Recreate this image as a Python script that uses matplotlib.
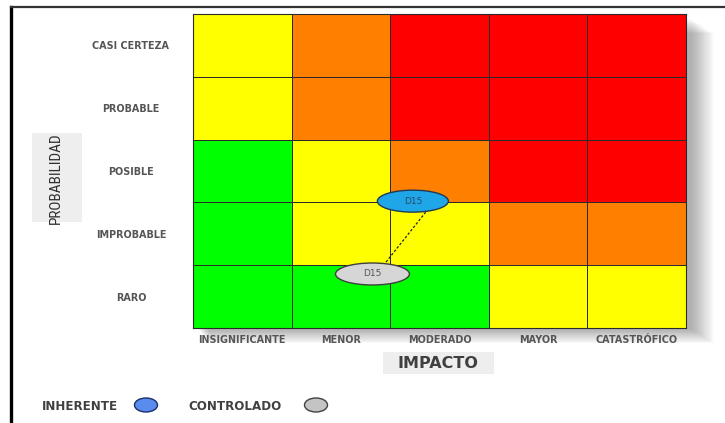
import matplotlib
matplotlib.use('Agg')
import matplotlib.pyplot as plt
from matplotlib.colors import ListedColormap, BoundaryNorm
from matplotlib.patches import Ellipse, Rectangle
from matplotlib.lines import Line2D
from matplotlib import font_manager
import numpy as np

# ---------------- data ----------------
impact_labels = ['INSIGNIFICANTE', 'MENOR', 'MODERADO', 'MAYOR', 'CATASTRÓFICO']
prob_labels = ['RARO', 'IMPROBABLE', 'POSIBLE', 'PROBABLE', 'CASI CERTEZA']  # bottom -> top
risk_levels = [
    [0, 0, 0, 1, 1],   # RARO
    [0, 1, 1, 2, 2],   # IMPROBABLE
    [0, 1, 2, 3, 3],   # POSIBLE
    [1, 2, 3, 3, 3],   # PROBABLE
    [1, 2, 3, 3, 3],   # CASI CERTEZA
]
level_colors = ['#00FF00', '#FFFF00', '#FF8000', '#FF0000']
risk_name = 'D15'
inherent_xy = (2.23, 2.02)
controlled_xy = (1.82, 0.86)
legend_names = ['INHERENTE', 'CONTROLADO']

# ---------------- figure ----------------
W, H = 725, 423
fig = plt.figure(figsize=(W / 100, H / 100), dpi=100)
fig.patch.set_facecolor('white')

def fx(px):
    return px / W

def fy(py):
    return 1 - py / H

avail = {f.name for f in font_manager.fontManager.ttflist}
narrow = None
for cand in ['Liberation Sans Narrow', 'Roboto Condensed', 'Open Sans Condensed',
             'DejaVu Sans Condensed']:
    if cand in avail:
        narrow = cand
        break
label_font = 'DejaVu Sans'
gray_txt = '#555555'

# frame lines (left and top)
fig.add_artist(Line2D([fx(11), fx(11)], [fy(7), fy(423)], transform=fig.transFigure,
                      color='black', lw=2.4))
fig.add_artist(Line2D([fx(11), fx(725)], [fy(7), fy(7)], transform=fig.transFigure,
                      color='#333333', lw=1.6))

# soft shadow of the grid
gl, gr, gt, gb = 193, 686, 14, 328
for i in range(1, 18):
    fig.add_artist(Rectangle((fx(gl + 4 + i * 0.7), fy(gb + i * 0.9)),
                             (gr - gl) / W + i / W * 0.7,
                             (gb - gt - 4) / H, transform=fig.transFigure,
                             facecolor='black', edgecolor='none', alpha=0.02, zorder=0))

# axes with the matrix
ax = fig.add_axes([fx(gl), fy(gb), (gr - gl) / W, (gb - gt) / H], zorder=2)
cmap = ListedColormap(level_colors)
norm = BoundaryNorm([-0.5, 0.5, 1.5, 2.5, 3.5], len(level_colors))
ax.pcolormesh(np.arange(len(impact_labels) + 1), np.arange(len(prob_labels) + 1),
              np.array(risk_levels), cmap=cmap, norm=norm,
              edgecolors='#2a2a2a', linewidth=0.7)
ax.set_xlim(0, len(impact_labels))
ax.set_ylim(0, len(prob_labels))
for s in ax.spines.values():
    s.set_color('#2a2a2a')
    s.set_linewidth(0.8)

ax.set_xticks(np.arange(len(impact_labels)) + 0.5)
ax.set_xticklabels(impact_labels, fontsize=6.9, fontweight='bold', color=gray_txt,
                   family=label_font)
ax.set_yticks(np.arange(len(prob_labels)) + 0.5)
ax.set_yticklabels(prob_labels, fontsize=6.9, fontweight='bold', color=gray_txt,
                   family=label_font)
for lbl in ax.get_yticklabels():
    lbl.set_ha('center')
ax.tick_params(axis='x', length=0, pad=5.0)
ax.tick_params(axis='y', length=0, pad=(gl - 131) * 0.72)

# connector between inherent and controlled
ew, eh = 0.72, 0.35
off = 0.13
ax.plot([inherent_xy[0] + off, controlled_xy[0] + off],
        [inherent_xy[1] - eh / 2, controlled_xy[1] + eh / 2],
        ls=(0, (2, 1.5)), color='#222222', lw=0.9, zorder=3)

ax.add_patch(Ellipse(inherent_xy, ew, eh, facecolor='#1EA6E8', edgecolor='#203a55',
                     lw=1.0, zorder=4))
ax.text(inherent_xy[0], inherent_xy[1], risk_name, ha='center', va='center',
        fontsize=6.5, color='#2b4a6a', zorder=5)
ax.add_patch(Ellipse(controlled_xy, ew + 0.03, eh, facecolor='#D6D6D6', edgecolor='#404040',
                     lw=1.0, zorder=4))
ax.text(controlled_xy[0], controlled_xy[1], risk_name, ha='center', va='center',
        fontsize=6.5, color='#555555', zorder=5)

# axis titles with light boxes
fig.add_artist(Rectangle((fx(383), fy(374)), (494 - 383) / W, (374 - 352) / H,
                         transform=fig.transFigure, facecolor='#EEEEEE', edgecolor='none'))
fig.text(fx(438), fy(363.5), 'IMPACTO', ha='center', va='center', fontsize=11.5,
         fontweight='bold', color='#404040', family='DejaVu Sans')

fig.add_artist(Rectangle((fx(32), fy(222)), (82 - 32) / W, (222 - 133) / H,
                         transform=fig.transFigure, facecolor='#EEEEEE', edgecolor='none'))
if narrow:
    fig.text(fx(56), fy(178), 'PROBABILIDAD', ha='center', va='center', rotation=90,
             fontsize=11, color='#303030', family=narrow)
else:
    fig.text(fx(56), fy(178), 'PROBABILIDAD', ha='center', va='center', rotation=90,
             fontsize=9.5, color='#303030', family='DejaVu Sans', fontstretch='condensed')

# legend
fig.text(fx(42), fy(406), legend_names[0], ha='left', va='center', fontsize=8.6,
         fontweight='bold', color='#404040', family=label_font)
fig.add_artist(Ellipse((fx(146), fy(405)), 23 / W, 14 / H, transform=fig.transFigure,
                       facecolor='#5A8CF0', edgecolor='#1A2F6A', lw=1.0))
fig.text(fx(188), fy(406), legend_names[1], ha='left', va='center', fontsize=8.6,
         fontweight='bold', color='#404040', family=label_font)
fig.add_artist(Ellipse((fx(316), fy(405)), 23 / W, 14 / H, transform=fig.transFigure,
                       facecolor='#C4C4C4', edgecolor='#404040', lw=1.0))

fig.savefig('out.png', dpi=100)
